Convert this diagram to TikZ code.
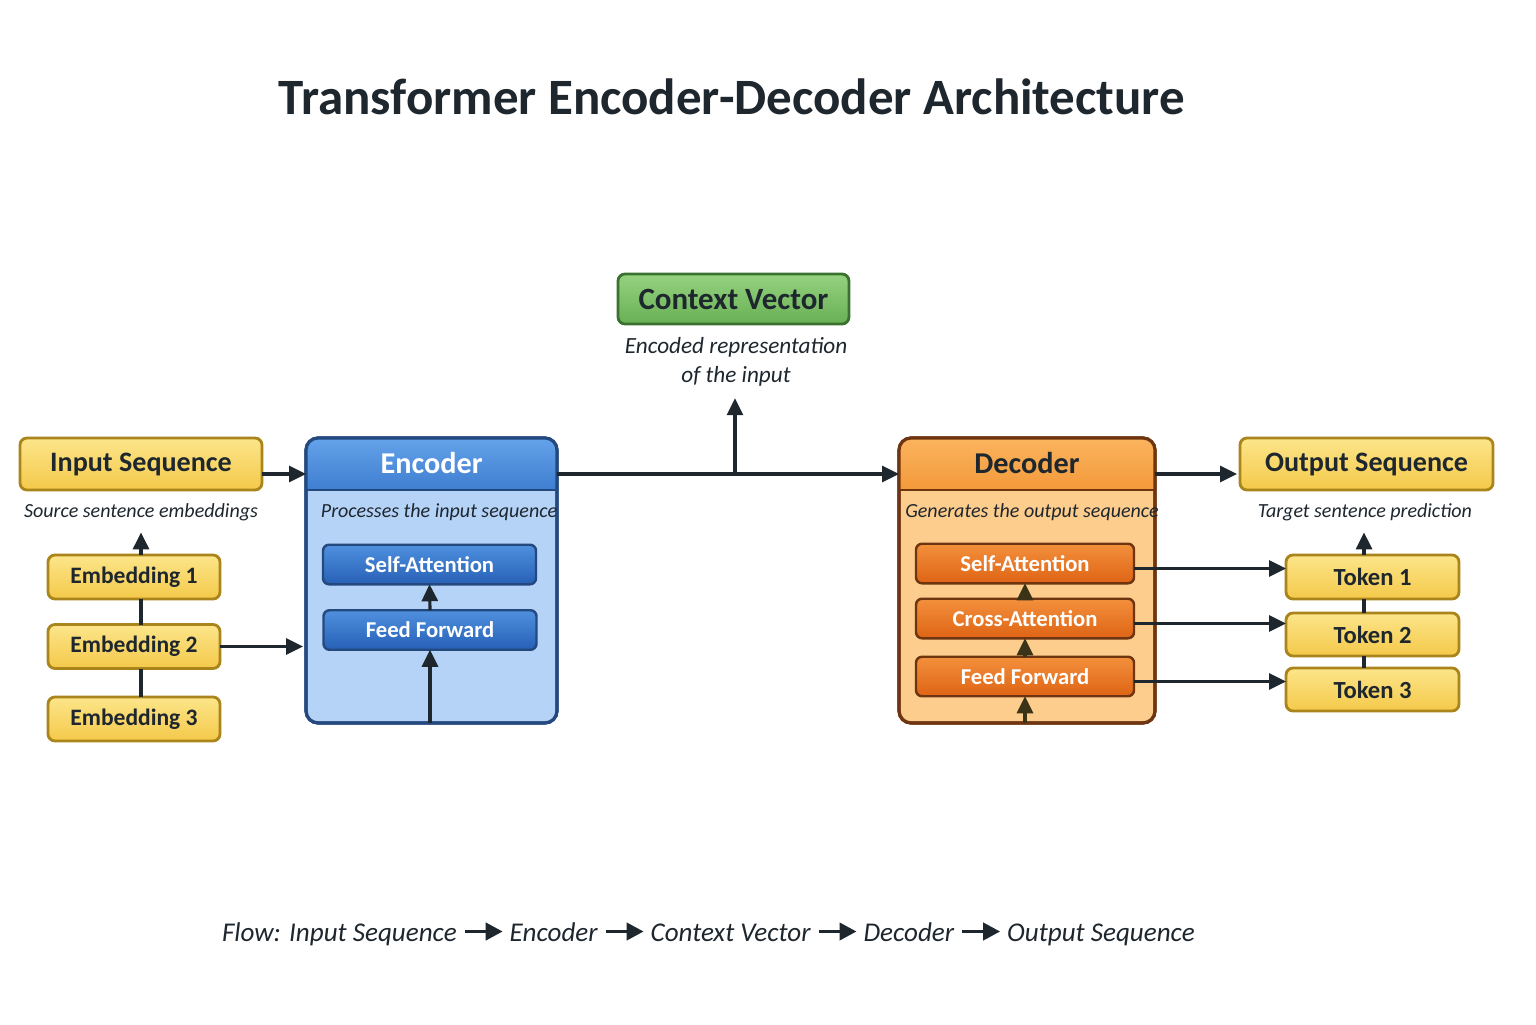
\documentclass[tikz,border=0pt]{standalone}
\usepackage{fontspec}
\setmainfont{Carlito}
\usetikzlibrary{arrows.meta,positioning}
\definecolor{ink}{HTML}{1E262E}
\definecolor{yeltop}{HTML}{FCE58A}
\definecolor{yelbot}{HTML}{F4C94A}
\definecolor{yelline}{HTML}{A9851C}
\definecolor{grntop}{HTML}{95D27F}
\definecolor{grnbot}{HTML}{68B055}
\definecolor{grnline}{HTML}{3C7230}
\definecolor{enctop}{HTML}{64A2EA}
\definecolor{encbot}{HTML}{3F7ED0}
\definecolor{encbody}{HTML}{B5D3F7}
\definecolor{encline}{HTML}{24497E}
\definecolor{encsubtop}{HTML}{4F90DE}
\definecolor{encsubbot}{HTML}{2660B6}
\definecolor{dectop}{HTML}{FBB45E}
\definecolor{decbot}{HTML}{F3993A}
\definecolor{decbody}{HTML}{FDCD8D}
\definecolor{decline}{HTML}{6E3510}
\definecolor{decsubtop}{HTML}{F3903C}
\definecolor{decsubbot}{HTML}{DE6415}
\definecolor{olive}{HTML}{3A3318}
\tikzset{
  >={Triangle[length=1.7mm,width=1.6mm]},
  every node/.style={outer sep=0pt, text=ink},
  link/.style={draw=ink, line width=0.9pt},
  yelbox/.style={draw=yelline, line width=0.8pt, rounded corners=0.07cm,
    top color=yeltop, bottom color=yelbot, font=\bfseries\fontsize{8}{10}\selectfont},
  smallbox/.style={yelbox, minimum width=1.72cm, minimum height=0.44cm, font=\bfseries\fontsize{6.7}{8}\selectfont},
  encsub/.style={draw=encline, line width=0.7pt, rounded corners=0.06cm,
    top color=encsubtop, bottom color=encsubbot, text=white,
    minimum width=2.13cm, minimum height=0.36cm, font=\bfseries\fontsize{6.45}{8}\selectfont},
  decsub/.style={draw=decline, line width=0.7pt, rounded corners=0.06cm,
    top color=decsubtop, bottom color=decsubbot, text=white,
    minimum width=2.18cm, minimum height=0.35cm, font=\bfseries\fontsize{6.45}{8}\selectfont},
  capt/.style={font=\itshape\fontsize{5.7}{7}\selectfont},
  flowtxt/.style={inner sep=0pt, font=\itshape\fontsize{7.7}{10}\selectfont}
}
\begin{document}
\begin{tikzpicture}
\useasboundingbox[fill=white] (0,0) rectangle (15.36,10.24);
\node[font=\bfseries\fontsize{14.5}{17}\selectfont] (title) at (7.32,9.27) {Transformer Encoder-Decoder Architecture};
\coordinate (mainy) at (0,5.50);

\node[draw=grnline, line width=0.8pt, rounded corners=0.07cm, top color=grntop, bottom color=grnbot,
  minimum width=2.31cm, minimum height=0.50cm, font=\bfseries\fontsize{8.8}{11}\selectfont] (ctx) at (7.335,7.25) {Context Vector};
\node[align=center, font=\itshape\fontsize{6.6}{8.3}\selectfont] (ctxcap) at (7.36,6.62) {Encoded representation\\of the input};

\node[yelbox, minimum width=2.42cm, minimum height=0.52cm] (in) at (1.41,5.60) {Input Sequence};
\node[capt] (incap) at (1.41,5.12) {Source sentence embeddings};
\node[smallbox] (emb1) at (1.34,4.47) {Embedding 1};
\node[smallbox] (emb2) at (1.34,3.775) {Embedding 2};
\node[smallbox] (emb3) at (1.34,3.05) {Embedding 3};

\node[draw=encline, line width=0.9pt, rounded corners=0.12cm, fill=encbody, minimum width=2.51cm, minimum height=2.85cm] (enc) at (4.315,4.435) {};
\fill[top color=enctop, bottom color=encbot] (3.06,5.34) [rounded corners=0.12cm] -- (3.06,5.86) -- (5.57,5.86) [sharp corners] -- (5.57,5.34) -- cycle;
\draw[encline, line width=0.7pt] (3.06,5.34) -- (5.57,5.34);
\draw[encline, line width=0.9pt, rounded corners=0.12cm] (enc.south west) rectangle (enc.north east);
\node[text=white, font=\bfseries\fontsize{8.6}{11}\selectfont] (enct) at (4.315,5.61) {Encoder};
\node[capt] (enccap) at (4.39,5.12) {Processes the input sequence};
\node[encsub] (encsa) at (4.295,4.595) {Self-Attention};
\node[encsub] (encff) at (4.30,3.94) {Feed Forward};

\node[draw=decline, line width=0.9pt, rounded corners=0.12cm, fill=decbody, minimum width=2.56cm, minimum height=2.85cm] (dec) at (10.27,4.435) {};
\fill[top color=dectop, bottom color=decbot] (8.99,5.34) [rounded corners=0.12cm] -- (8.99,5.86) -- (11.55,5.86) [sharp corners] -- (11.55,5.34) -- cycle;
\draw[decline, line width=0.7pt] (8.99,5.34) -- (11.55,5.34);
\draw[decline, line width=0.9pt, rounded corners=0.12cm] (dec.south west) rectangle (dec.north east);
\node[font=\bfseries\fontsize{8.6}{11}\selectfont] (dect) at (10.27,5.61) {Decoder};
\node[capt] (deccap) at (10.32,5.12) {Generates the output sequence};
\node[decsub] (decsa) at (10.25,4.605) {Self-Attention};
\node[decsub] (decca) at (10.25,4.055) {Cross-Attention};
\node[decsub] (decff) at (10.25,3.475) {Feed Forward};

\node[yelbox, minimum width=2.53cm, minimum height=0.52cm] (out) at (13.665,5.60) {Output Sequence};
\node[capt] (outcap) at (13.65,5.12) {Target sentence prediction};
\node[smallbox, minimum width=1.73cm, font=\bfseries\fontsize{7}{8}\selectfont] (tok1) at (13.725,4.47) {Token 1};
\node[smallbox, minimum width=1.73cm, minimum height=0.43cm, font=\bfseries\fontsize{7}{8}\selectfont] (tok2) at (13.725,3.895) {Token 2};
\node[smallbox, minimum width=1.73cm, minimum height=0.43cm, font=\bfseries\fontsize{7}{8}\selectfont] (tok3) at (13.725,3.345) {Token 3};

\draw[link,->] (in.east |- mainy) -- (enc.west |- mainy);
\draw[link,->] (emb2.east) -- ([xshift=-0.03cm]enc.west |- emb2.east);
\draw[link] ([xshift=.07cm]emb1.south) -- ([xshift=.07cm]emb2.north);
\draw[link] ([xshift=.07cm]emb2.south) -- ([xshift=.07cm]emb3.north);
\draw[link,->] ([xshift=.07cm]emb1.north) -- ([xshift=.07cm]emb1.north |- incap.south);

\draw[link,->] (enc.south -| encff) -- (encff.south);
\draw[link,->] (encff.north) -- (encsa.south);

\draw[link,->] (enc.east |- mainy) -- (dec.west |- mainy);
\coordinate (ctxup) at (7.35,5.50);
\draw[link,->] (ctxup) -- (ctxup |- ctxcap.south);

\draw[link,draw=olive,->] (dec.south -| decff) -- (decff.south);
\draw[link,draw=olive,->] (decff.north) -- (decca.south);
\draw[link,draw=olive,->] (decca.north) -- (decsa.south);

\draw[link,->] (dec.east |- mainy) -- ([xshift=-0.03cm]out.west |- mainy);
\draw[link,->] ([yshift=-.05cm]decsa.east) -- ([yshift=-.05cm]tok1.west |- decsa.east);
\draw[link,->] ([yshift=-.05cm]decca.east) -- ([yshift=-.05cm]tok2.west |- decca.east);
\draw[link,->] ([yshift=-.05cm]decff.east) -- ([yshift=-.05cm]tok3.west |- decff.east);
\draw[link] ([xshift=-.085cm]tok1.south) -- ([xshift=-.085cm]tok2.north);
\draw[link] ([xshift=-.085cm]tok2.south) -- ([xshift=-.085cm]tok3.north);
\draw[link,->] ([xshift=-.085cm]tok1.north) -- ([xshift=-.085cm]tok1.north |- outcap.south);

\node[flowtxt, anchor=base west] (f1) at (2.22,0.83) {Flow: Input Sequence};
\node[flowtxt, base right=0.53cm of f1] (f2) {Encoder};
\node[flowtxt, base right=0.53cm of f2] (f3) {Context Vector};
\node[flowtxt, base right=0.53cm of f3] (f4) {Decoder};
\node[flowtxt, base right=0.53cm of f4] (f5) {Output Sequence};
\foreach \a/\b in {f1/f2,f2/f3,f3/f4,f4/f5}
  \draw[link, line width=1.1pt, -{Triangle[length=1.7mm,width=1.7mm]}] ([shift={(0.08,0.095)}]\a.base east) -- ([shift={(-0.07,0.095)}]\b.base west);
\end{tikzpicture}
\end{document}
